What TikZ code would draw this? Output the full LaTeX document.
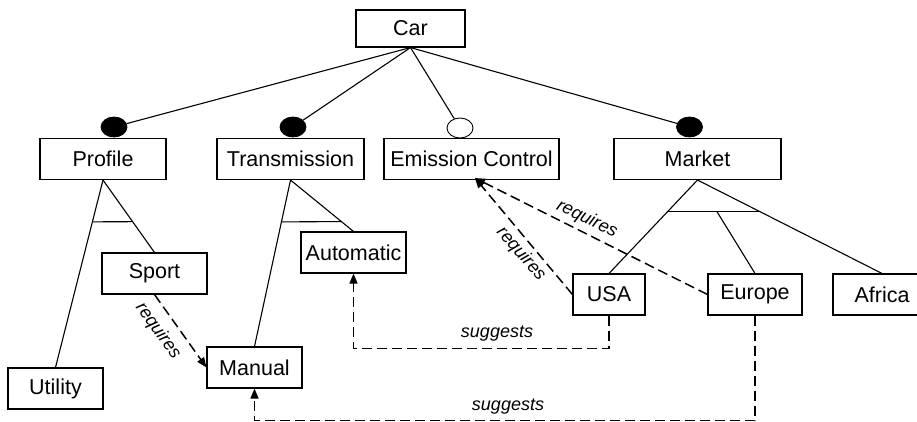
\documentclass[tikz,border=0pt]{standalone}
\usepackage{fontspec}
\setmainfont{Liberation Sans}
\usetikzlibrary{arrows.meta,shapes.geometric,calc}
\begin{document}
\begin{tikzpicture}[x=1pt,y=-1pt,
  feat/.style={draw,line width=1.1pt,rectangle,minimum height=41pt,inner sep=0pt,
    font=\fontsize{21.5}{24}\selectfont},
  mand/.style={draw,ellipse,fill=black,minimum width=26pt,minimum height=20pt,inner sep=0pt,line width=0.8pt},
  opt/.style={draw,ellipse,fill=white,minimum width=26pt,minimum height=20pt,inner sep=0pt,line width=0.9pt},
  tree/.style={line width=1.1pt},
  dep/.style={line width=1.5pt,dash pattern=on 10pt off 5pt,-{Triangle[length=10pt,width=8pt]}},
  lbl/.style={font=\fontsize{18}{20}\selectfont\itshape,inner sep=0pt}]
\useasboundingbox (0,0) rectangle (917,422);

% features
\node[feat,minimum width=109pt,minimum height=37pt] (car) at (410.5,28.5) {Car};
\node[feat,minimum width=126pt] (profile) at (103,159) {Profile};
\node[feat,minimum width=147pt] (trans) at (290.5,159) {Transmission};
\node[feat,minimum width=175pt] (emis) at (471.5,159) {Emission Control};
\node[feat,minimum width=167pt] (market) at (697.5,159) {Market};
\node[feat,minimum width=105pt] (sport) at (154.5,273.5) {Sport};
\node[feat,minimum width=105pt] (auto) at (353.5,252.5) {Automatic};
\node[feat,minimum width=95pt] (utility) at (55.5,388.5) {Utility};
\node[feat,minimum width=95pt] (manual) at (254.5,367.5) {Manual};
\node[feat,minimum width=72pt] (usa) at (609,294.5) {USA};
\node[feat,minimum width=94pt] (europe) at (755,294.5) {Europe};
\node[feat,minimum width=98pt] (africa) at (882,294.5) {Africa};

% mandatory / optional markers
\node[mand] (pm) at (114,127) {};
\node[mand] (tm) at (293,127) {};
\node[opt] (em) at (460,128) {};
\node[mand] (mm) at (689.5,127) {};

\draw[tree] (car.south) -- (pm);
\draw[tree] (car.south) -- (tm);
\draw[tree] (car.south) -- (em);
\draw[tree] (car.south) -- (mm);

% alternative groups
\draw[tree] (profile.south) -- (utility.north);
\draw[tree] (profile.south) -- (sport.north);
\draw[tree] ($(profile.south)!0.223!(utility.north)$) -- ($(profile.south)!0.575!(sport.north)$);

\draw[tree] (trans.south) -- (manual.north);
\draw[tree] (trans.south) -- (auto.north);
\draw[tree] ($(trans.south)!0.2515!(manual.north)$) -- ($(trans.south)!0.8077!(auto.north)$);

\draw[tree] (market.south) -- (usa.north);
\draw[tree] (market.south) -- (africa.north);
\coordinate (mbl) at ($(market.south)!0.34!(usa.north)$);
\coordinate (mbr) at ($(market.south)!0.34!(africa.north)$);
\coordinate (mbm) at ($(market.south)!0.34!(europe.north)$);
\draw[tree] (mbl) -- (mbr);
\draw[tree] (mbm) -- (europe.north);

% dependencies
\coordinate (et) at ($(emis.south)+(3.5,-2)$);
\draw[dep] (sport.south) -- (manual.west);
\node[lbl,rotate=-54.5] at (158,331) {requires};
\draw[dep] (usa.west) -- (et);
\node[lbl,rotate=-49] at (521,254) {requires};
\draw[dep] (europe.west) -- (et);
\node[lbl,rotate=-25.7] at (587,219) {requires};

\draw[dep] (usa.south) -- ++(0,33) -| (auto.south);
\node[lbl] at (497,334) {suggests};
\draw[dep] (europe.south) -- ++(0,105) -| (manual.south);
\node[lbl] at (508,407) {suggests};
\end{tikzpicture}
\end{document}
